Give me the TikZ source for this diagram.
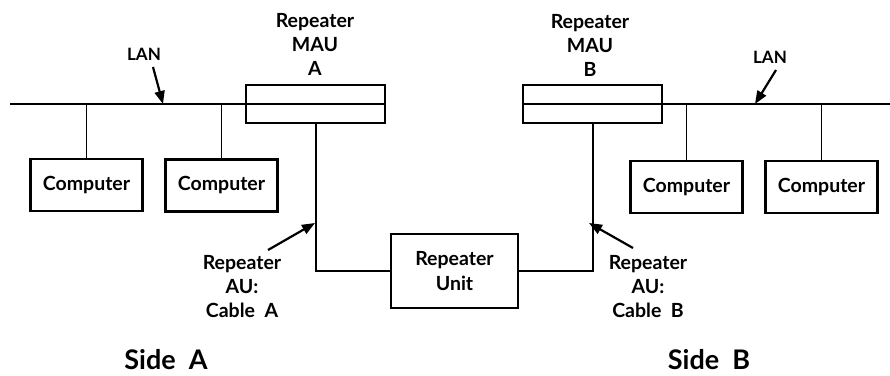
\documentclass[tikz,border=0pt]{standalone}
\usepackage{fontspec}
\setmainfont{Lato}
\usetikzlibrary{arrows.meta}
\begin{document}
\begin{tikzpicture}[x=1pt,y=-1pt,
  box/.style={draw,line width=2.6pt,rectangle,inner sep=0pt},
  maubox/.style={box,minimum width=139pt,minimum height=38pt},
  pcbox/.style={box,minimum width=112pt,minimum height=52pt,font=\fontsize{19.5}{21}\selectfont\bfseries},
  lan/.style={line width=2.4pt},
  cable/.style={line width=2pt},
  drop/.style={line width=1.2pt},
  lbl/.style={align=center,font=\fontsize{19.5}{24}\selectfont\bfseries,inner sep=0pt},
  lanlbl/.style={font=\fontsize{17}{20}\selectfont\bfseries,inner sep=0pt},
  sidelbl/.style={font=\fontsize{27}{29}\selectfont\bfseries,inner sep=0pt},
  pointer/.style={line width=2.2pt,-{Triangle[length=13pt,width=10pt]}}]
\useasboundingbox (0,0) rectangle (890,375);

% medium attachment units on the two LAN segments
\node[maubox] (mauA) at (315.5,104) {};
\node[maubox] (mauB) at (592.5,104) {};

% the two LAN coax segments
\coordinate (lanAend) at (10,104);
\coordinate (lanBend) at (890,104);
\draw[lan] (lanAend) -- (mauA.east);
\draw[lan] (mauB.west) -- (lanBend);

% computers hanging off each LAN
\node[pcbox] (c1) at (86.5,185) {Computer};
\node[pcbox] (c2) at (221.5,185.5) {Computer};
\node[pcbox] (c3) at (686.5,187) {Computer};
\node[pcbox] (c4) at (821.5,187) {Computer};
\foreach \c in {c1,c2}
  \draw[drop] (\c.north) -- (\c.north |- lanAend);
\foreach \c in {c3,c4}
  \draw[drop] (\c.north) -- (\c.north |- lanBend);

% repeater unit and its AUI cables
\node[box,minimum width=127pt,minimum height=74pt,lbl,font=\fontsize{19.5}{25}\selectfont\bfseries] (ru) at (454.5,271) {Repeater\\Unit};
\draw[cable] (mauA.south) |- (ru.west);
\draw[cable] (ru.east) -| (mauB.south);

% MAU captions
\node[lbl] (mauAtxt) at (315,44) {Repeater\\MAU\\A};
\node[lbl] (mauBtxt) at (590,45) {Repeater\\MAU\\B};

% LAN captions with pointers
\node[lanlbl] (lanAtxt) at (144,54) {LAN};
\node[lanlbl] (lanBtxt) at (770,57) {LAN};
\coordinate (lanAtail) at (153,67);
\coordinate (lanAhit) at (163,104);
\coordinate (lanBtail) at (776,70);
\coordinate (lanBhit) at (755,104);
\draw[pointer] (lanAtail) -- (lanAhit);
\draw[pointer] (lanBtail) -- (lanBhit);

% AUI cable captions with pointers
\node[lbl] (auAtxt) at (242,287) {Repeater\\AU:\\Cable\ \ A};
\node[lbl] (auBtxt) at (648,287) {Repeater\\AU:\\Cable\ \ B};
\coordinate (auAtail) at (268,250);
\coordinate (auAhit) at (315,223);
\coordinate (auBtail) at (633,248);
\coordinate (auBhit) at (589,223);
\draw[pointer] (auAtail) -- (auAhit);
\draw[pointer] (auBtail) -- (auBhit);

% side captions
\node[sidelbl] (sideA) at (166,360) {Side\ \ A};
\node[sidelbl] (sideB) at (709,360) {Side\ \ B};
\end{tikzpicture}
\end{document}
